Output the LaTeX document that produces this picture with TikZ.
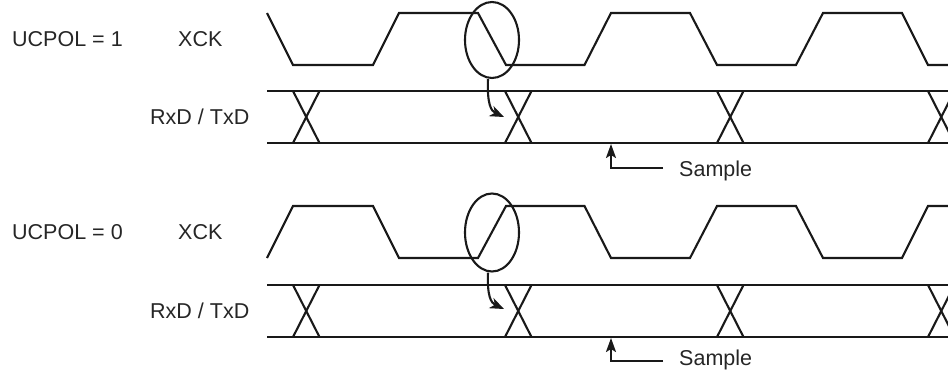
\documentclass[tikz,border=0pt]{standalone}
\usepackage{fontspec}
\setmainfont{Liberation Sans}
\usetikzlibrary{arrows.meta,shapes.geometric}
\begin{document}
\begin{tikzpicture}[x=1pt,y=-1pt,
  sig/.style={line width=2.1pt,line join=miter,color=black!90},
  lbl/.style={font=\fontsize{21.5}{24}\selectfont,inner sep=0pt,anchor=base west,text=black!85},
  ring/.style={line width=2.1pt,color=black!90},
  hint/.style={line width=2.1pt,color=black!90,-{Stealth[length=14pt,width=11pt,inset=4pt]}},
  samp/.style={line width=2.1pt,color=black!90,-{Stealth[length=14pt,width=10pt,inset=3pt]}}]
\useasboundingbox (0,0) rectangle (948,370);
\clip (0,0) rectangle (948,370);
% labels
\node[lbl] (p1) at (12,46) {UCPOL = 1};
\node[lbl] (x1) at (178,46) {XCK};
\node[lbl] (d1) at (150,124) {RxD / TxD};
\node[lbl] (p0) at (12,239) {UCPOL = 0};
\node[lbl] (x0) at (178,239) {XCK};
\node[lbl] (d0) at (150,318) {RxD / TxD};
\node[lbl] (s1) at (679,176) {Sample};
\node[lbl] (s0) at (679,365) {Sample};
% top clock (UCPOL = 1)
\draw[sig] (267,13) -- (293,65) -- (373,65) -- (399,13) -- (478,13) -- (506,65) -- (584.5,65) -- (611,13) -- (690,13) -- (717,65) -- (796,65) -- (823,13) -- (902,13) -- (928,65) -- (952,65);
% bottom clock (UCPOL = 0)
\draw[sig] (267,258) -- (293,206) -- (373,206) -- (399,258) -- (478,258) -- (506,206) -- (584.5,206) -- (611,258) -- (690,258) -- (717,206) -- (796,206) -- (823,258) -- (902,258) -- (928,206) -- (952,206);
% data lines
\foreach \ya/\yb in {91/143, 285/337}{
  \draw[sig] (267,\ya) -- (952,\ya);
  \draw[sig] (267,\yb) -- (952,\yb);
  \foreach \xx in {293,505,717,928}{
    \draw[sig] (\xx,\ya) -- ({\xx+26.5},\yb);
    \draw[sig] (\xx,\yb) -- ({\xx+26.5},\ya);
  }
}
% ellipses
\node[draw,ring,ellipse,minimum width=54pt,minimum height=76pt,inner sep=0pt] (e1) at (492,40) {};
\node[draw,ring,ellipse,minimum width=54pt,minimum height=78pt,inner sep=0pt] (e0) at (492,232.5) {};
\coordinate (t1) at (504,117);
\coordinate (t0) at (504,309);
\draw[hint] (e1.south) ++(-4,0) coordinate (a1) (a1) .. controls (487,104) and (491,111) .. (t1);
\draw[hint] (e0.south) ++(-4,0) coordinate (a0) (a0) .. controls (487,296) and (491,303) .. (t0);
% sample arrows
\coordinate (c1) at (611,168);
\coordinate (c0) at (611,361);
\draw[samp] (s1.west |- c1) ++(-16,0) -- (c1) -- (611,144);
\draw[samp] (s0.west |- c0) ++(-16,0) -- (c0) -- (611,338);
\end{tikzpicture}
\end{document}
